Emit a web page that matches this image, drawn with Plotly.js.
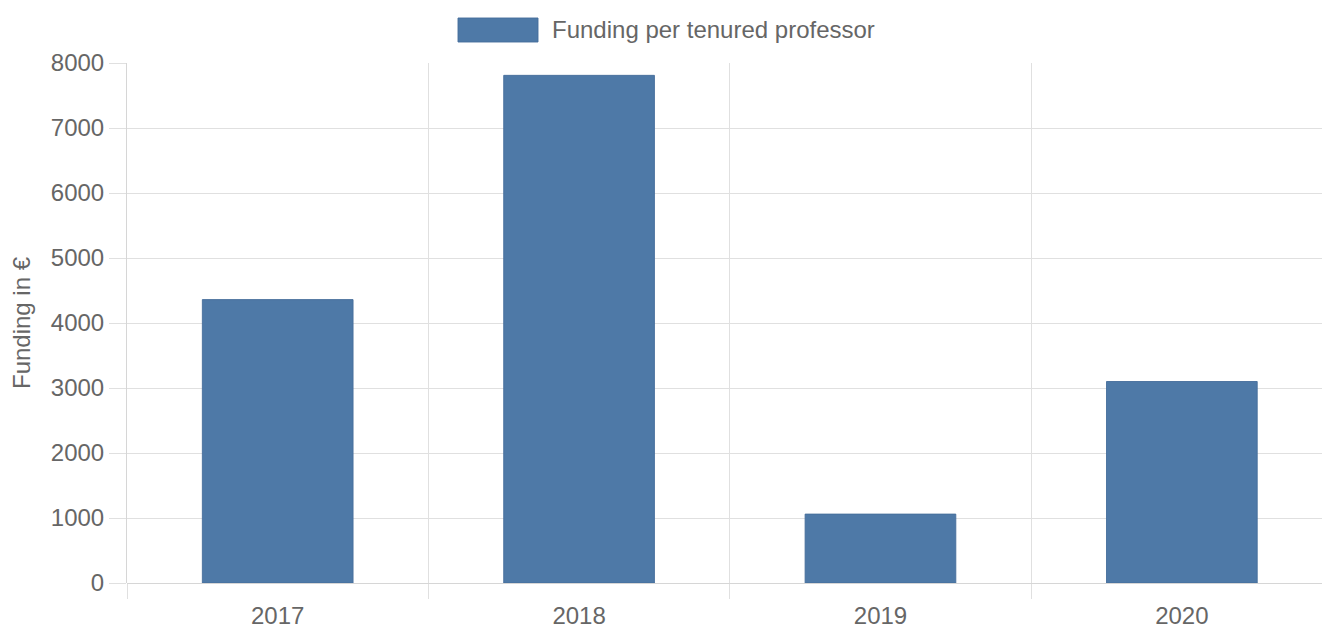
<!DOCTYPE html>
<html>
<head>
<meta charset="utf-8">
<script src="https://cdn.plot.ly/plotly-3.0.1.min.js"></script>
<style>
  html, body { margin: 0; padding: 0; background: #fff; }
  #chart { width: 1322px; height: 628px; }
</style>
</head>
<body>
<div id="chart"></div>
<script>
const years = ["2017", "2018", "2019", "2020"];
const funding = [4360, 7810, 1060, 3100];
const seriesName = "Funding per tenured professor";
const yTitle = "Funding in €";

const barColor = "#4e79a7";
const gridColor = "#e0e0e0";
const textColor = "#666666";
const fontFamily = "Liberation Sans, Arial, Helvetica, sans-serif";

const trace = {
  type: "bar",
  x: years,
  y: funding,
  name: seriesName,
  width: 0.5,
  marker: { color: barColor, line: { color: "rgba(70,110,155,0.9)", width: 1 } },
  showlegend: false,
  hoverinfo: "x+y"
};

const layout = {
  width: 1322,
  height: 628,
  margin: { l: 127, r: 0, t: 63, b: 45 },
  paper_bgcolor: "#ffffff",
  plot_bgcolor: "#ffffff",
  font: { family: fontFamily, size: 24, color: textColor },
  xaxis: {
    type: "category",
    range: [-0.5, 3.465],
    tickson: "boundaries",
    ticks: "outside",
    ticklen: 15,
    tickcolor: gridColor,
    tickwidth: 1,
    ticklabelstandoff: 16,
    showgrid: true,
    gridcolor: gridColor,
    gridwidth: 1,
    showline: false,
    zeroline: false,
    tickfont: { family: fontFamily, size: 24, color: textColor },
    automargin: false,
    fixedrange: true
  },
  yaxis: {
    range: [0, 8000],
    dtick: 1000,
    ticks: "outside",
    ticklen: 17,
    tickcolor: gridColor,
    showgrid: true,
    gridcolor: gridColor,
    showline: true,
    linecolor: "#d6d6d6",
    linewidth: 1,
    zeroline: true,
    zerolinecolor: "#d6d6d6",
    zerolinewidth: 1,
    tickfont: { family: fontFamily, size: 24, color: textColor },
    title: { text: yTitle, font: { family: fontFamily, size: 24, color: textColor }, standoff: 13 },
    automargin: false,
    fixedrange: true
  },
  shapes: [
    {
      type: "rect", xref: "paper", yref: "paper",
      x0: (458 - 127) / 1195, x1: (538 - 127) / 1195,
      y0: (583 - 42) / 520, y1: (583 - 18) / 520,
      fillcolor: barColor, line: { color: "rgba(70,110,155,0.9)", width: 1 }
    }
  ],
  annotations: [
    {
      xref: "paper", yref: "paper",
      x: (550 - 127) / 1195, y: (583 - 29) / 520,
      xanchor: "left", yanchor: "middle",
      text: seriesName, showarrow: false,
      font: { family: fontFamily, size: 24, color: textColor }
    }
  ]
};

Plotly.newPlot("chart", [trace], layout, { displayModeBar: false, staticPlot: true });
</script>
</body>
</html>
